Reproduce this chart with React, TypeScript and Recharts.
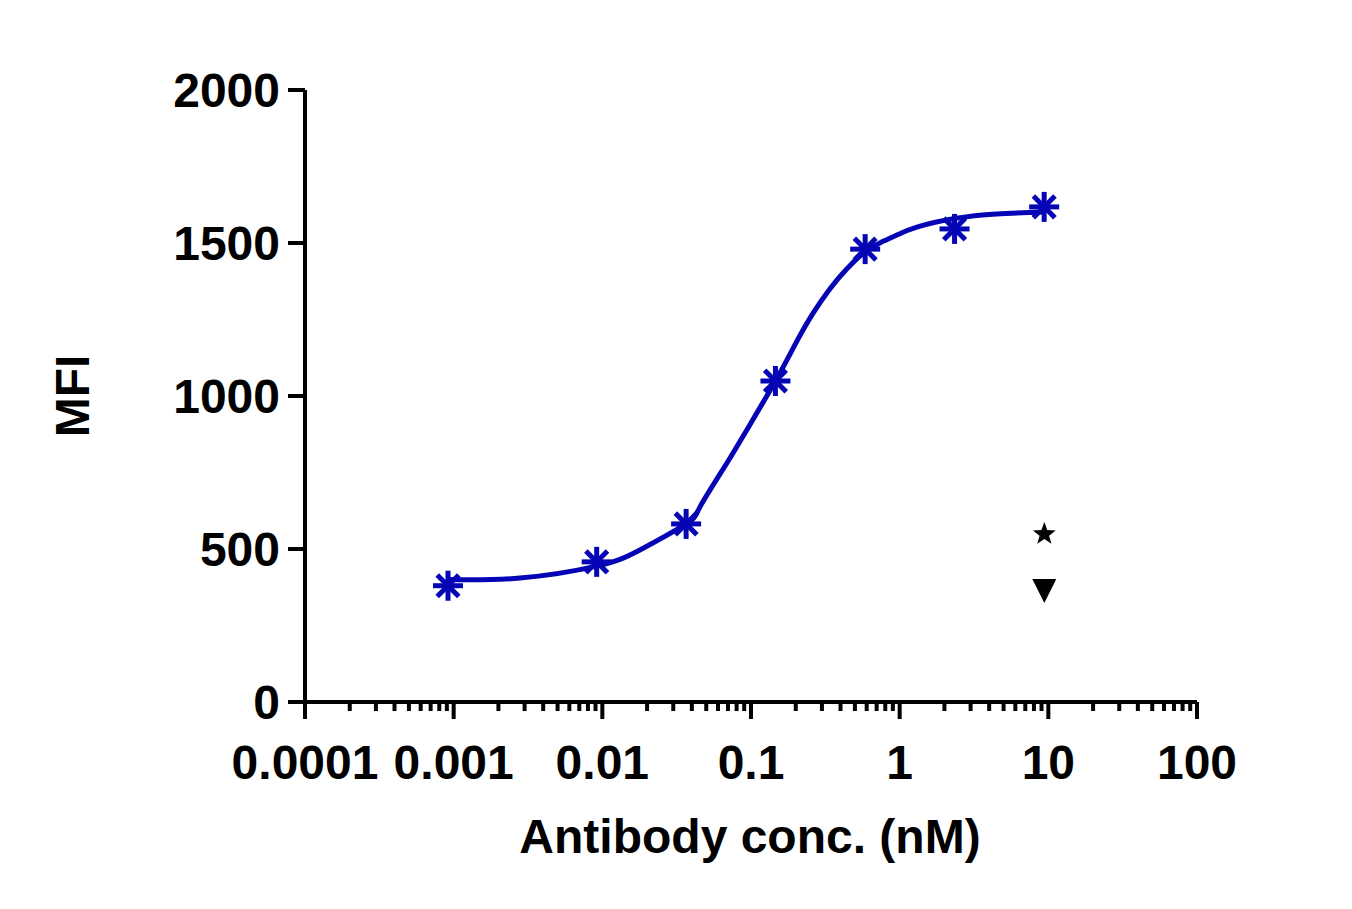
import React from 'react';
import {
  ComposedChart, Line, Scatter, XAxis, YAxis, Label,
} from 'recharts';

// measured points (antibody conc. nM vs MFI)
const CONC = [0.000916, 0.00916, 0.0366, 0.146, 0.586, 2.34, 9.375];
const MFI = [380, 458, 582, 1049, 1480, 1546, 1618];

// fitted curve
const CURVE_X = [0.000916, 0.00279, 0.00916, 0.0179, 0.0366, 0.0453, 0.0689, 0.0937, 0.146, 0.204, 0.261, 0.339, 0.442, 0.58, 0.736, 0.958, 1.305, 2.34, 4.5, 9.375];
const CURVE_Y = [400, 405, 444, 497, 582, 637, 781, 889, 1049, 1180, 1270, 1350, 1416, 1470, 1500, 1526, 1552, 1580, 1595, 1601];

// other symbols near x = 10
const STAR_PT = [{ x: 9.4, y: 552 }];
const TRI_PT = [{ x: 9.4, y: 366 }];

const X_MAJOR = [0.0001, 0.001, 0.01, 0.1, 1, 10, 100];
const X_LABELS = ['0.0001', '0.001', '0.01', '0.1', '1', '10', '100'];
const MINOR_MULT = [2, 3, 4, 5, 6, 7, 8, 9];
const Y_TICKS = [0, 500, 1000, 1500, 2000];

const BLUE = '#0505B5';
const FONT = '"Liberation Sans", Arial, sans-serif';

const points = CONC.map((x, i) => ({ x, y: MFI[i] }));
const curve = CURVE_X.map((x, i) => ({ x, y: CURVE_Y[i] }));

const xTicks: number[] = [];
X_MAJOR.forEach((m, i) => {
  xTicks.push(m);
  if (i < X_MAJOR.length - 1) MINOR_MULT.forEach(k => xTicks.push(+(m * k).toPrecision(6)));
});

const majorIndex = (v: number) => X_MAJOR.findIndex(m => Math.abs(m - v) / m < 1e-6);

const XTick = (props: any) => {
  const { x, y, payload } = props;
  const idx = majorIndex(payload.value);
  const major = idx >= 0;
  return (
    <g>
      <line x1={x} x2={x} y1={y} y2={y + (major ? 17 : 9)} stroke="#000" strokeWidth={4} />
      {major && (
        <text x={x} y={y + 77} textAnchor="middle" fontSize={48} fontWeight="bold" fontFamily={FONT} fill="#000">
          {X_LABELS[idx]}
        </text>
      )}
    </g>
  );
};

const Asterisk = (props: any) => {
  const { cx, cy } = props;
  const r = 15;
  const d = r * 0.72;
  return (
    <g stroke={BLUE} strokeWidth={5}>
      <line x1={cx} y1={cy - r} x2={cx} y2={cy + r} />
      <line x1={cx - r} y1={cy} x2={cx + r} y2={cy} />
      <line x1={cx - d} y1={cy - d} x2={cx + d} y2={cy + d} />
      <line x1={cx - d} y1={cy + d} x2={cx + d} y2={cy - d} />
    </g>
  );
};

const StarShape = (props: any) => {
  const { cx, cy } = props;
  const outer = 12;
  const inner = 5;
  const pts: string[] = [];
  for (let i = 0; i < 10; i++) {
    const r = i % 2 === 0 ? outer : inner;
    const a = -Math.PI / 2 + (i * Math.PI) / 5;
    pts.push(`${cx + r * Math.cos(a)},${cy + 1 + r * Math.sin(a)}`);
  }
  return <polygon points={pts.join(' ')} fill="#000" />;
};

const TriDown = (props: any) => {
  const { cx, cy } = props;
  return <polygon points={`${cx - 12},${cy - 11} ${cx + 12},${cy - 11} ${cx},${cy + 13}`} fill="#000" />;
};

export default function App() {
  return (
    <div style={{ width: 1300, height: 880 }}>
      <ComposedChart
        width={1300}
        height={880}
        margin={{ top: 82, right: 111, left: 97, bottom: 36 }}
      >
        <XAxis
          dataKey="x"
          type="number"
          scale="log"
          domain={[0.0001, 100]}
          ticks={xTicks}
          interval={0}
          allowDataOverflow
          height={150}
          tickSize={0}
          tickMargin={0}
          tickLine={false}
          axisLine={{ stroke: '#000', strokeWidth: 4 }}
          tick={<XTick />}
        >
          <Label
            content={() => (
              <text x={742} y={845} textAnchor="middle" fontSize={48} fontWeight="bold" fontFamily={FONT} fill="#000">
                Antibody conc. (nM)
              </text>
            )}
          />
        </XAxis>
        <YAxis
          dataKey="y"
          type="number"
          domain={[0, 2000]}
          ticks={Y_TICKS}
          interval={0}
          width={200}
          tickSize={17}
          tickMargin={8}
          axisLine={{ stroke: '#000', strokeWidth: 4 }}
          tickLine={{ stroke: '#000', strokeWidth: 4 }}
          tick={{ fontSize: 48, fontWeight: 'bold', fontFamily: FONT, fill: '#000' }}
        >
          <Label
            content={() => (
              <text
                x={64}
                y={388}
                transform="rotate(-90 64 388)"
                textAnchor="middle"
                dominantBaseline="central"
                fontSize={48}
                fontWeight="bold"
                fontFamily={FONT}
                fill="#000"
              >
                MFI
              </text>
            )}
          />
        </YAxis>
        <Line
          data={curve}
          dataKey="y"
          type="natural"
          stroke={BLUE}
          strokeWidth={5}
          dot={false}
          activeDot={false}
          isAnimationActive={false}
        />
        <Scatter data={points} dataKey="y" shape={<Asterisk />} isAnimationActive={false} />
        <Scatter data={STAR_PT} dataKey="y" shape={<StarShape />} isAnimationActive={false} />
        <Scatter data={TRI_PT} dataKey="y" shape={<TriDown />} isAnimationActive={false} />
      </ComposedChart>
    </div>
  );
}
